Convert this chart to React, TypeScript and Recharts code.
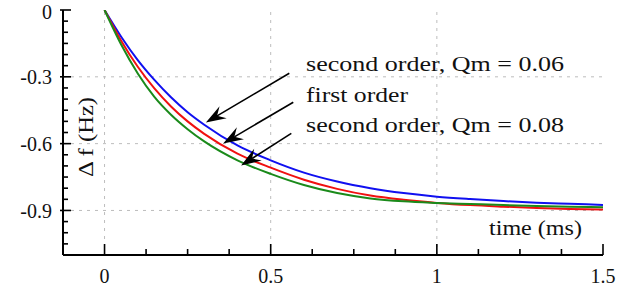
import React from 'react';
import { LineChart, Line, XAxis, YAxis, ReferenceLine } from 'recharts';

// time (ms) sample points
const times = [0, 0.05, 0.1, 0.15, 0.2, 0.25, 0.3, 0.4, 0.5, 0.6, 0.7, 0.8, 0.9, 1.0, 1.1, 1.2, 1.3, 1.4, 1.5];
// second order, Qm = 0.06
const blueVals = [0, -0.12, -0.225, -0.314, -0.392, -0.459, -0.515, -0.608, -0.675, -0.73, -0.77, -0.8, -0.822, -0.838, -0.849, -0.858, -0.865, -0.87, -0.875];
// first order
const redVals = [0, -0.138, -0.255, -0.352, -0.433, -0.5, -0.556, -0.645, -0.708, -0.762, -0.803, -0.833, -0.852, -0.866, -0.876, -0.883, -0.889, -0.893, -0.896];
// second order, Qm = 0.08
const greenVals = [0, -0.155, -0.285, -0.39, -0.47, -0.535, -0.59, -0.675, -0.736, -0.786, -0.822, -0.846, -0.859, -0.866, -0.871, -0.876, -0.88, -0.883, -0.886];

const xTicks = [-0.125, 0, 0.125, 0.25, 0.375, 0.5, 0.625, 0.75, 0.875, 1, 1.125, 1.25, 1.375, 1.5];
const xMajor = [0, 0.5, 1, 1.5];
const xLabels = ['0', '0.5', '1', '1.5'];
const yTicks = [0, -0.05, -0.1, -0.15, -0.2, -0.25, -0.3, -0.35, -0.4, -0.45, -0.5, -0.55, -0.6, -0.65, -0.7, -0.75, -0.8, -0.85, -0.9, -0.95, -1, -1.05, -1.1];
const yMajor = [0, -0.3, -0.6, -0.9];
const yLabels = ['0', '-0.3', '-0.6', '-0.9'];

// arrows: [from x, from y, to x, to y] in data units
const arrows = [
  [0.556, -0.284, 0.305, -0.505],
  [0.568, -0.414, 0.357, -0.599],
  [0.562, -0.554, 0.411, -0.698],
];

const data = times.map((t, i) => ({ t, blue: blueVals[i], red: redVals[i], green: greenVals[i] }));

const FONT = 'Liberation Serif, Times New Roman, serif';
const majorIdx = (list: number[], v: number) => list.findIndex((m) => Math.abs(m - v) < 1e-6);

const BottomTick = (p: any) => {
  const { x, y, payload } = p;
  const i = majorIdx(xMajor, payload.value);
  return (
    <g>
      <line x1={x} x2={x} y1={y} y2={y - (i >= 0 ? 11 : 6)} stroke="#000" strokeWidth={1.6} />
      {i >= 0 && (
        <text x={x} y={y + 28} textAnchor="middle" fontFamily={FONT} fontSize={20} fill="#111">
          {xLabels[i]}
        </text>
      )}
    </g>
  );
};

const TopTick = (p: any) => {
  const { x, y, payload } = p;
  const i = majorIdx(xMajor, payload.value);
  return <line x1={x} x2={x} y1={y} y2={y + (i >= 0 ? 10 : 5)} stroke="#000" strokeWidth={1.6} />;
};

const LeftTick = (p: any) => {
  const { x, y, payload } = p;
  const i = majorIdx(yMajor, payload.value);
  return (
    <g>
      <line x1={i >= 0 ? x - 3 : x} x2={x + (i >= 0 ? 8 : 5)} y1={y} y2={y} stroke="#000" strokeWidth={1.6} />
      {i >= 0 && (
        <text x={x - 11} y={y} dy={i === 0 ? '0.45em' : '0.36em'} textAnchor="end" fontFamily={FONT} fontSize={20} fill="#111">
          {yLabels[i]}
        </text>
      )}
    </g>
  );
};

const RightTick = (p: any) => {
  const { x, y, payload } = p;
  const i = majorIdx(yMajor, payload.value);
  return <line x1={x} x2={x + (i >= 0 ? 8 : 5)} y1={y} y2={y} stroke="#000" strokeWidth={1.6} />;
};

const Arrow = (p: any) => {
  const { x1, y1, x2, y2 } = p;
  const a = Math.atan2(y2 - y1, x2 - x1);
  const c = Math.cos(a);
  const s = Math.sin(a);
  const len = 20;
  const w = 7;
  const nx = x2 - len * 0.65 * c;
  const ny = y2 - len * 0.65 * s;
  const bx = x2 - len * c;
  const by = y2 - len * s;
  const pts = `${x2},${y2} ${bx - w * s},${by + w * c} ${nx},${ny} ${bx + w * s},${by - w * c}`;
  return (
    <g>
      <line x1={x1} y1={y1} x2={nx} y2={ny} stroke="#000" strokeWidth={1.6} />
      <polygon points={pts} fill="#000" />
    </g>
  );
};

const App = () => {
  return (
    <div style={{ position: 'absolute', left: 0, top: 0, width: 618, height: 293, background: '#fff' }}>
      <LineChart width={618} height={293} data={data} margin={{ top: 10, right: 15, bottom: 0, left: 0 }}>
        <XAxis
          dataKey="t"
          type="number"
          domain={[-0.125, 1.5]}
          ticks={xTicks}
          interval={0}
          height={38}
          tickSize={0}
          tickMargin={0}
          tickLine={false}
          tick={<BottomTick />}
          axisLine={{ stroke: '#000', strokeWidth: 2 }}
          allowDataOverflow
        />
        <XAxis
          xAxisId="top"
          orientation="top"
          dataKey="t"
          type="number"
          domain={[-0.125, 1.5]}
          ticks={xTicks}
          interval={0}
          height={0}
          tickSize={0}
          tickMargin={0}
          tickLine={false}
          tick={<TopTick />}
          axisLine={{ stroke: '#000', strokeWidth: 2 }}
          allowDataOverflow
        />
        <YAxis
          type="number"
          domain={[-1.1, 0]}
          ticks={yTicks}
          interval={0}
          width={63}
          tickSize={0}
          tickMargin={0}
          tickLine={false}
          tick={<LeftTick />}
          axisLine={{ stroke: '#000', strokeWidth: 2 }}
          allowDataOverflow
        />
        <YAxis
          yAxisId="right"
          orientation="right"
          type="number"
          domain={[-1.1, 0]}
          ticks={yTicks}
          interval={0}
          width={0}
          tickSize={0}
          tickMargin={0}
          tickLine={false}
          tick={<RightTick />}
          axisLine={{ stroke: '#000', strokeWidth: 2 }}
          allowDataOverflow
        />
        {xMajor.slice(0, 3).map((v) => (
          <ReferenceLine key={'vx' + v} x={v} stroke="#bdbdbd" strokeDasharray="3 5" strokeWidth={1} />
        ))}
        {yMajor.slice(1).map((v) => (
          <ReferenceLine key={'hy' + v} y={v} stroke="#bdbdbd" strokeDasharray="3 5" strokeWidth={1} />
        ))}
        <Line type="monotone" dataKey="blue" stroke="#1010f0" strokeWidth={2} dot={false} isAnimationActive={false} />
        <Line type="monotone" dataKey="red" stroke="#f01010" strokeWidth={2} dot={false} isAnimationActive={false} />
        <Line type="monotone" dataKey="green" stroke="#1a8a1a" strokeWidth={2} dot={false} isAnimationActive={false} />
        {arrows.map((a, i) => (
          <ReferenceLine
            key={'ar' + i}
            segment={[{ x: a[0], y: a[1] }, { x: a[2], y: a[3] }]}
            shape={<Arrow />}
            ifOverflow="visible"
          />
        ))}
      </LineChart>
      <svg width={618} height={293} style={{ position: 'absolute', left: 0, top: 0, pointerEvents: 'none' }}>
        <g fontFamily={FONT} fontSize={21} fill="#111">
          <text x={306} y={71} textLength={258} lengthAdjust="spacingAndGlyphs">second order, Qm = 0.06</text>
          <text x={306} y={102} textLength={102} lengthAdjust="spacingAndGlyphs">first order</text>
          <text x={306} y={132} textLength={258} lengthAdjust="spacingAndGlyphs">second order, Qm = 0.08</text>
          <text x={489} y={235} textLength={93} lengthAdjust="spacingAndGlyphs">time (ms)</text>
          <text
            transform="translate(86,137) rotate(-90)"
            textAnchor="middle"
            dy="0.35em"
            textLength={80}
            lengthAdjust="spacingAndGlyphs"
          >
            Δ f (Hz)
          </text>
        </g>
      </svg>
    </div>
  );
};

export default App;
